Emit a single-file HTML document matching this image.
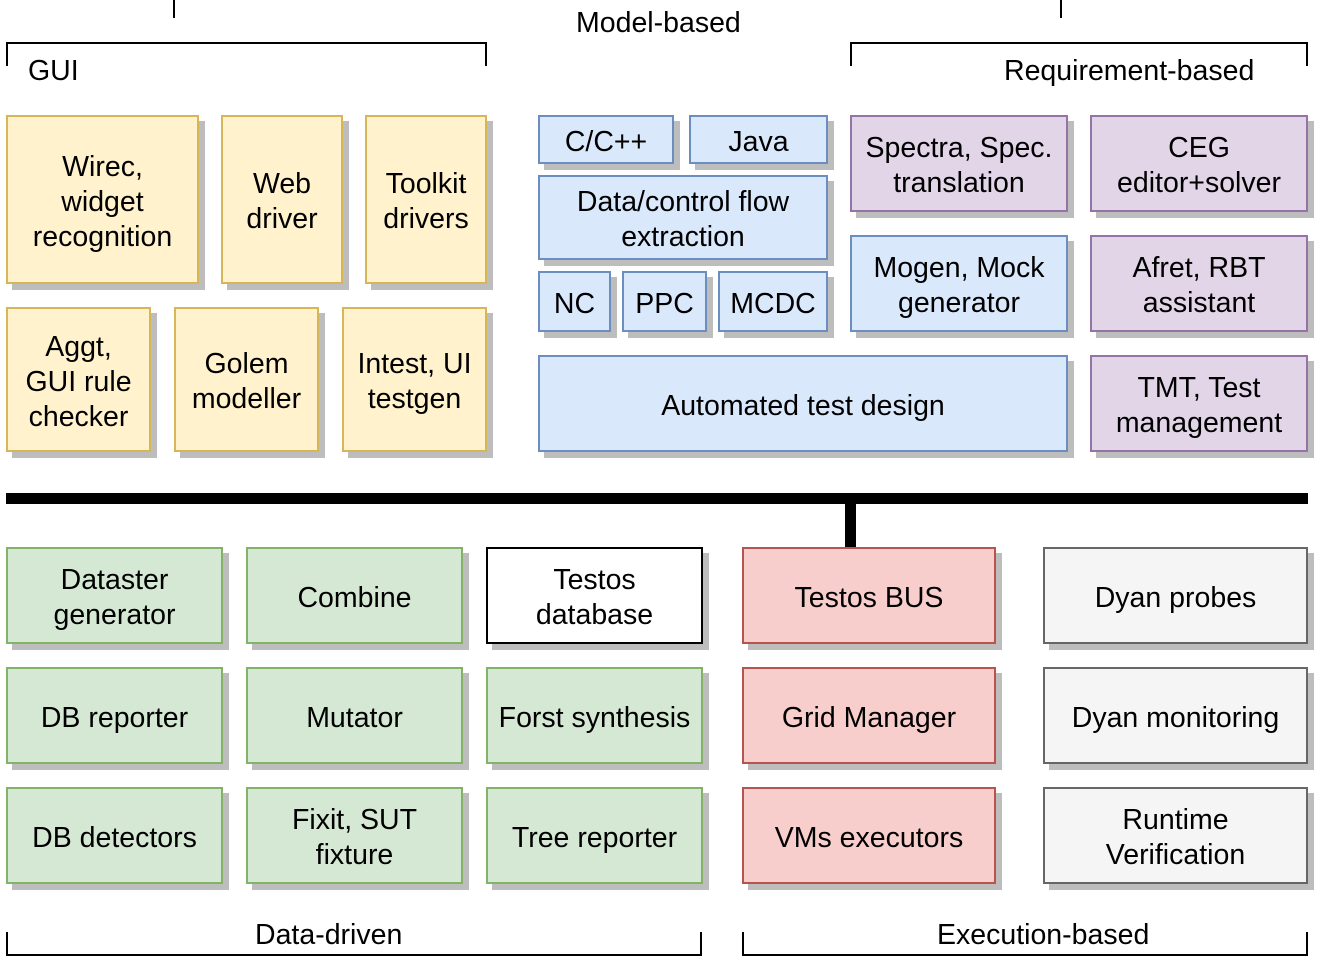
<!DOCTYPE html>
<html><head><meta charset="utf-8"><style>
body{margin:0;width:1318px;height:972px;background:#fff;position:relative;overflow:hidden;font-family:"Liberation Sans",Arial,sans-serif;color:#000}
.b{position:absolute;box-sizing:border-box;border:2px solid;display:flex;align-items:center;justify-content:center;text-align:center;font-size:28.5px;line-height:35px;padding-top:5px;box-shadow:6px 6px 0 #bdbdbd}
.y{background:#fff2cc;border-color:#d6b656}
.u{background:#dae8fc;border-color:#6c8ebf}
.p{background:#e1d5e7;border-color:#9673a6}
.g{background:#d5e8d4;border-color:#82b366}
.r{background:#f8cecc;border-color:#b85450}
.s{background:#f5f5f5;border-color:#666}
.w{background:#fff;border-color:#000}
.l{position:absolute;background:#000}
.t{position:absolute;font-size:28.5px;line-height:30px;white-space:nowrap}
</style></head><body>
<div class="l" style="left:173px;top:0;width:2px;height:18px"></div>
<div class="l" style="left:1060px;top:0;width:2px;height:18px"></div>
<div class="t" style="left:576px;top:8px">Model-based</div>
<div class="l" style="left:6px;top:42px;width:481px;height:2px"></div>
<div class="l" style="left:6px;top:42px;width:2px;height:24px"></div>
<div class="l" style="left:485px;top:42px;width:2px;height:24px"></div>
<div class="t" style="left:28px;top:56px">GUI</div>
<div class="l" style="left:850px;top:42px;width:458px;height:2px"></div>
<div class="l" style="left:850px;top:42px;width:2px;height:24px"></div>
<div class="l" style="left:1306px;top:42px;width:2px;height:24px"></div>
<div class="t" style="left:1004px;top:56px">Requirement-based</div>

<div class="b y" style="left:6px;top:115px;width:193px;height:169px">Wirec,<br>widget<br>recognition</div>
<div class="b y" style="left:221px;top:115px;width:122px;height:169px">Web<br>driver</div>
<div class="b y" style="left:365px;top:115px;width:122px;height:169px">Toolkit<br>drivers</div>
<div class="b y" style="left:6px;top:307px;width:145px;height:145px">Aggt,<br>GUI rule<br>checker</div>
<div class="b y" style="left:174px;top:307px;width:145px;height:145px">Golem<br>modeller</div>
<div class="b y" style="left:342px;top:307px;width:145px;height:145px">Intest, UI<br>testgen</div>

<div class="b u" style="left:538px;top:115px;width:136px;height:49px">C/C++</div>
<div class="b u" style="left:689px;top:115px;width:139px;height:49px">Java</div>
<div class="b u" style="left:538px;top:175px;width:290px;height:85px">Data/control flow<br>extraction</div>
<div class="b u" style="left:538px;top:271px;width:73px;height:61px">NC</div>
<div class="b u" style="left:622px;top:271px;width:85px;height:61px">PPC</div>
<div class="b u" style="left:718px;top:271px;width:110px;height:61px">MCDC</div>
<div class="b p" style="left:850px;top:115px;width:218px;height:97px">Spectra, Spec.<br>translation</div>
<div class="b u" style="left:850px;top:235px;width:218px;height:97px">Mogen, Mock<br>generator</div>
<div class="b p" style="left:1090px;top:115px;width:218px;height:97px">CEG<br>editor+solver</div>
<div class="b p" style="left:1090px;top:235px;width:218px;height:97px">Afret, RBT<br>assistant</div>
<div class="b p" style="left:1090px;top:355px;width:218px;height:97px">TMT, Test<br>management</div>
<div class="b u" style="left:538px;top:355px;width:530px;height:97px">Automated test design</div>

<div class="l" style="left:6px;top:493px;width:1302px;height:11px"></div>
<div class="l" style="left:845px;top:500px;width:11px;height:48px"></div>

<div class="b g" style="left:6px;top:547px;width:217px;height:97px">Dataster<br>generator</div>
<div class="b g" style="left:246px;top:547px;width:217px;height:97px">Combine</div>
<div class="b w" style="left:486px;top:547px;width:217px;height:97px">Testos<br>database</div>
<div class="b r" style="left:742px;top:547px;width:254px;height:97px">Testos BUS</div>
<div class="b s" style="left:1043px;top:547px;width:265px;height:97px">Dyan probes</div>

<div class="b g" style="left:6px;top:667px;width:217px;height:97px">DB reporter</div>
<div class="b g" style="left:246px;top:667px;width:217px;height:97px">Mutator</div>
<div class="b g" style="left:486px;top:667px;width:217px;height:97px">Forst synthesis</div>
<div class="b r" style="left:742px;top:667px;width:254px;height:97px">Grid Manager</div>
<div class="b s" style="left:1043px;top:667px;width:265px;height:97px">Dyan monitoring</div>

<div class="b g" style="left:6px;top:787px;width:217px;height:97px">DB detectors</div>
<div class="b g" style="left:246px;top:787px;width:217px;height:97px">Fixit, SUT<br>fixture</div>
<div class="b g" style="left:486px;top:787px;width:217px;height:97px">Tree reporter</div>
<div class="b r" style="left:742px;top:787px;width:254px;height:97px">VMs executors</div>
<div class="b s" style="left:1043px;top:787px;width:265px;height:97px">Runtime<br>Verification</div>

<div class="l" style="left:6px;top:954px;width:696px;height:2px"></div>
<div class="l" style="left:6px;top:932px;width:2px;height:24px"></div>
<div class="l" style="left:700px;top:932px;width:2px;height:24px"></div>
<div class="t" style="left:255px;top:920px">Data-driven</div>
<div class="l" style="left:742px;top:954px;width:566px;height:2px"></div>
<div class="l" style="left:742px;top:932px;width:2px;height:24px"></div>
<div class="l" style="left:1306px;top:932px;width:2px;height:24px"></div>
<div class="t" style="left:937px;top:920px">Execution-based</div>
</body></html>
